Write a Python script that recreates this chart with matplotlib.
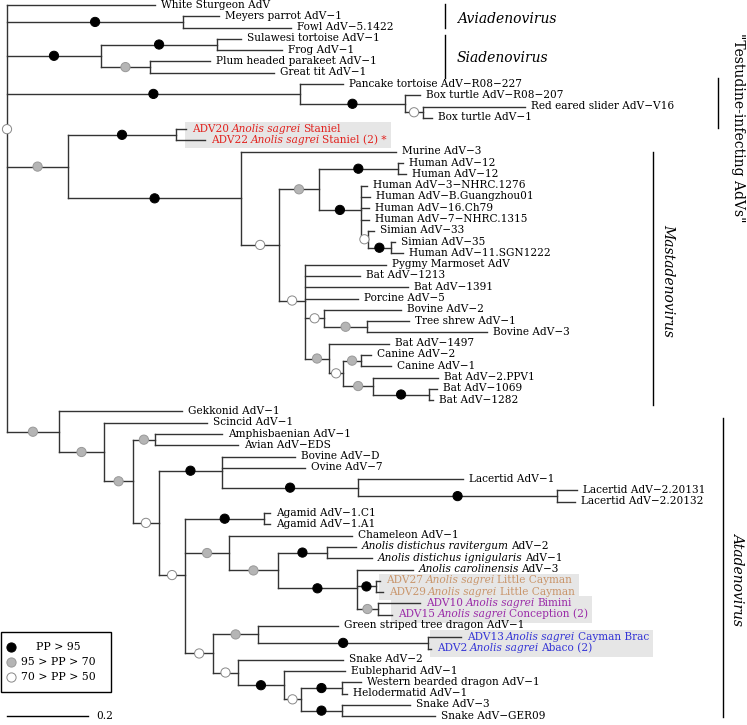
import matplotlib
matplotlib.use("Agg")
import matplotlib.pyplot as plt
from matplotlib.collections import LineCollection
from matplotlib.offsetbox import TextArea, HPacker, AnnotationBbox
from matplotlib.patches import Rectangle

# ---- tips, top to bottom (text between "_" is italic) ----
leaf_names = [
    "White Sturgeon AdV", "Meyers parrot AdV−1", "Fowl AdV−5.1422",
    "Sulawesi tortoise AdV−1", "Frog AdV−1", "Plum headed parakeet AdV−1",
    "Great tit AdV−1", "Pancake tortoise AdV−R08−227", "Box turtle AdV−R08−207",
    "Red eared slider AdV−V16", "Box turtle AdV−1",
    "ADV20 _Anolis sagrei_ Staniel", "ADV22 _Anolis sagrei_ Staniel (2) *",
    "Murine AdV−3", "Human AdV−12", "Human AdV−12", "Human AdV−3−NHRC.1276",
    "Human AdV−B.Guangzhou01", "Human AdV−16.Ch79", "Human AdV−7−NHRC.1315",
    "Simian AdV−33", "Simian AdV−35", "Human AdV−11.SGN1222",
    "Pygmy Marmoset AdV", "Bat AdV−1213", "Bat AdV−1391", "Porcine AdV−5",
    "Bovine AdV−2", "Tree shrew AdV−1", "Bovine AdV−3", "Bat AdV−1497",
    "Canine AdV−2", "Canine AdV−1", "Bat AdV−2.PPV1", "Bat AdV−1069",
    "Bat AdV−1282", "Gekkonid AdV−1", "Scincid AdV−1", "Amphisbaenian AdV−1",
    "Avian AdV−EDS", "Bovine AdV−D", "Ovine AdV−7", "Lacertid AdV−1",
    "Lacertid AdV−2.20131", "Lacertid AdV−2.20132", "Agamid AdV−1.C1",
    "Agamid AdV−1.A1", "Chameleon AdV−1",
    "_Anolis distichus ravitergum_ AdV−2",
    "_Anolis distichus ignigularis_ AdV−1",
    "_Anolis carolinensis_ AdV−3",
    "ADV27 _Anolis sagrei_ Little Cayman", "ADV29 _Anolis sagrei_ Little Cayman",
    "ADV10 _Anolis sagrei_ Bimini", "ADV15 _Anolis sagrei_ Conception (2)",
    "Green striped tree dragon AdV−1",
    "ADV13 _Anolis sagrei_ Cayman Brac", "ADV2 _Anolis sagrei_ Abaco (2)",
    "Snake AdV−2", "Eublepharid AdV−1", "Western bearded dragon AdV−1",
    "Helodermatid AdV−1", "Snake AdV−3", "Snake AdV−GER09",
]
leaf_parent = [
    "root", "avia", "avia", "sia1", "sia1", "sia2", "sia2", "testu", "testu1",
    "testu2", "testu2", "stan", "stan", "mast", "hadv12", "hadv12",
    "hadvb", "hadvb", "hadvb", "hadvb", "sim", "sim2", "sim2",
    "mast_b", "mast_b", "mast_b", "mast_b", "bov", "bov2", "bov2", "bat",
    "can", "can", "bat2", "bat3", "bat3", "ata", "ata1", "amph", "amph",
    "rum", "rum", "lac", "lac2", "lac2", "agam", "agam", "cham",
    "adist", "adist", "asag", "lc", "lc", "bim", "bim", "gstd", "cay", "cay",
    "snk", "snk1", "wbd", "wbd", "snk3", "snk3",
]
# distance from root (substitutions/site)
leaf_depth = [
    0.365, 0.523, 0.701, 0.578, 0.679, 0.501, 0.659, 0.830, 1.020, 1.279,
    1.049, 0.442, 0.489, 0.960, 0.978, 0.985, 0.889, 0.896, 0.894, 0.894,
    0.906, 0.958, 0.978, 0.936, 0.872, 0.990, 0.867, 0.973, 0.993, 1.185,
    0.943, 0.899, 0.948, 1.064, 1.062, 1.052, 0.432, 0.494, 0.531, 0.570,
    0.711, 0.736, 1.126, 1.407, 1.402, 0.649, 0.649, 0.852, 0.862, 0.901,
    1.002, 0.921, 0.928, 1.020, 0.951, 0.817, 1.121, 1.047, 0.830, 0.835,
    0.874, 0.840, 0.995, 1.057,
]
leaf_group = [""] * 11 + ["stan", "stan"] + [""] * 38 + ["lc", "lc", "bim", "bim",
                                                          "", "cay", "cay"] + [""] * 6

# ---- internal nodes ----
node_names = [
    "root", "avia", "sia", "sia1", "sia2", "testu", "testu1", "testu2",
    "mast_stan", "stan", "mast", "mast_a", "hadv", "hadv12", "hadvb", "sim",
    "sim2", "mast_b", "bov", "bov2", "bat", "bat1", "can", "bat2", "bat3",
    "ata", "ata1", "ata2", "amph", "ata3", "rum", "lac", "lac2", "ata4",
    "agam", "cham", "anol", "adist", "asag", "lc", "bim", "ata5", "gstd",
    "cay", "snk", "snk1", "snk2", "wbd", "snk3",
]
node_parent = [
    "", "root", "root", "sia", "sia", "root", "testu", "testu1",
    "root", "mast_stan", "mast_stan", "mast", "mast_a", "hadv", "hadv", "hadvb",
    "sim", "mast_a", "mast_b", "bov", "mast_b", "bat", "bat1", "bat1", "bat2",
    "root", "ata", "ata1", "ata2", "ata2", "ata3", "rum", "lac", "ata3",
    "ata4", "ata4", "cham", "anol", "anol", "asag", "asag", "ata4", "ata5",
    "gstd", "ata5", "snk", "snk1", "snk2", "snk2",
]
node_depth = [
    0.000, 0.435, 0.232, 0.519, 0.353, 0.723, 0.983, 1.027,
    0.151, 0.417, 0.578, 0.672, 0.770, 0.965, 0.874, 0.891,
    0.948, 0.736, 0.783, 0.889, 0.795, 0.830, 0.874, 0.904, 1.042,
    0.128, 0.240, 0.311, 0.365, 0.375, 0.531, 0.867, 1.358, 0.440,
    0.635, 0.548, 0.669, 0.790, 0.864, 0.911, 0.916, 0.509, 0.620,
    1.040, 0.570, 0.684, 0.726, 0.827, 0.827,
]
# b: PP > 95, g: 95 > PP > 70, w: 70 > PP > 50
node_support = [
    "w", "b", "b", "b", "g", "b", "b", "w",
    "g", "b", "b", "w", "g", "b", "b", "w",
    "b", "w", "w", "g", "g", "w", "g", "g", "b",
    "g", "g", "g", "g", "w", "b", "b", "b", "w",
    "b", "g", "g", "b", "b", "b", "g", "w", "g",
    "b", "w", "b", "w", "b", "b",
]

legend_labels = ["PP > 95", "95 > PP > 70", "70 > PP > 50"]
scale_len = 0.2

clade_names = ["Aviadenovirus", "Siadenovirus", '"Testudine-infecting AdVs"',
               "Mastadenovirus", "Atadenovirus"]

# ---- style ----
ROW = 11.29       # px between tips
PX_UNIT = 405     # px per substitution/site
FONT = "DejaVu Serif"
LEAF_SIZE = 7.6
LINE_COL = "#333333"
group_color = {"": "black", "stan": "#e2231f", "lc": "#c9966c",
               "bim": "#9a2ba8", "cay": "#3535d6"}
dot_face = {"b": "black", "g": "#b5b5b5", "w": "white"}
dot_edge = {"b": "black", "g": "#999999", "w": "#888888"}


def ux(px):
    return (px - 7) / PX_UNIT


def uy(py):
    return (py - 5) / ROW


fig = plt.figure(figsize=(7.47, 7.25), dpi=100)
ax = fig.add_axes([0, 0, 1, 1])
ax.set_xlim(ux(0), ux(747))
ax.set_ylim(uy(725), uy(0))
ax.axis("off")

# children and y of every node
kids = {n: [] for n in node_names}
for i, p in enumerate(leaf_parent):
    kids[p].append(("L", i))
for n, p in zip(node_names, node_parent):
    if p:
        kids[p].append(("N", n))
xnode = dict(zip(node_names, node_depth))
ynode = {}


def ypos(k):
    if k[0] == "L":
        return float(k[1])
    if k[1] not in ynode:
        ys = [ypos(c) for c in kids[k[1]]]
        ynode[k[1]] = sum(ys) / len(ys)
    return ynode[k[1]]


def xpos(k):
    return leaf_depth[k[1]] if k[0] == "L" else xnode[k[1]]


segs = []
for n in node_names:
    x = xnode[n]
    ys = [ypos(c) for c in kids[n]]
    segs.append([(x, min(ys)), (x, max(ys))])
    for c in kids[n]:
        segs.append([(x, ypos(c)), (xpos(c), ypos(c))])
ax.add_collection(LineCollection(segs, colors=LINE_COL, linewidths=1.0,
                                 capstyle="projecting", zorder=2))

# support dots, midway along the branch to each node
dx, dy, dc = [], [], []
for n, p, s in zip(node_names, node_parent, node_support):
    if not s:
        continue
    y = ypos(("N", n))
    x = xnode[n] if not p else (xnode[n] + xnode[p]) / 2
    dx.append(x)
    dy.append(y)
    dc.append(s)
ax.scatter(dx, dy, s=44, c=[dot_face[s] for s in dc],
           edgecolors=[dot_edge[s] for s in dc], linewidths=0.7, zorder=4)

# tip labels
labels = []
for i, name in enumerate(leaf_names):
    col = group_color[leaf_group[i]]
    parts = []
    for j, piece in enumerate(name.split("_")):
        piece = piece.strip()
        if not piece:
            continue
        props = dict(family=FONT, size=LEAF_SIZE, color=col,
                     style="italic" if j % 2 else "normal")
        parts.append(TextArea(piece, textprops=props))
    box = HPacker(children=parts, sep=1.7, pad=0, align="baseline")
    ab = AnnotationBbox(box, (leaf_depth[i], i), xybox=(4.3, 0),
                        xycoords="data", boxcoords="offset points",
                        box_alignment=(0, 0.45), frameon=False, pad=0,
                        zorder=5)
    ax.add_artist(ab)
    labels.append(ab)

# grey boxes behind the Anolis sagrei isolates
fig.canvas.draw()
rend = fig.canvas.get_renderer()
inv = ax.transData.inverted()
for g in ["stan", "lc", "bim", "cay"]:
    idx = [i for i, gg in enumerate(leaf_group) if gg == g]
    ext = [labels[i].get_window_extent(rend) for i in idx]
    x0 = min(e.x0 for e in ext) - 7
    x1 = max(e.x1 for e in ext) + 4
    (bx0, _), (bx1, _) = inv.transform([(x0, 0), (x1, 0)])
    top = idx[0] - 7 / ROW
    bot = idx[-1] + 8 / ROW
    ax.add_patch(Rectangle((bx0, top), bx1 - bx0, bot - top,
                           facecolor="#e6e6e6", edgecolor="none", zorder=0))

# clade bars and names
bars = [(ux(445), uy(4), uy(28)), (ux(445), uy(35), uy(78)),
        (ux(718), uy(78), uy(128)), (ux(653), uy(152), uy(405)),
        (ux(723), uy(418), uy(717))]
for (bx, b0, b1) in bars:
    ax.plot([bx, bx], [b0, b1], color="black", lw=1.0)
ax.text(ux(457), uy(19), clade_names[0], family=FONT, style="italic",
        size=10, va="center", ha="left")
ax.text(ux(457), uy(58), clade_names[1], family=FONT, style="italic",
        size=10, va="center", ha="left")
ax.text(ux(738), uy(128), clade_names[2], family=FONT, size=10,
        rotation=-90, va="center", ha="center")
ax.text(ux(668), uy(280), clade_names[3], family=FONT, style="italic",
        size=10, rotation=-90, va="center", ha="center")
ax.text(ux(738), uy(578), clade_names[4], family=FONT, style="italic",
        size=10, rotation=-90, va="center", ha="center")

# legend
W, H = 747, 725
ax.add_patch(Rectangle((1 / W, 1 - 692 / H), 110 / W, 60 / H,
                       transform=ax.transAxes, facecolor="white",
                       edgecolor="black", lw=1.0, zorder=3))
for k, (s, py) in enumerate(zip(["b", "g", "w"], [647, 662, 677])):
    ax.scatter([11 / W], [1 - py / H], s=44, c=dot_face[s],
               edgecolors=dot_edge[s], linewidths=0.7,
               transform=ax.transAxes, zorder=4)
    ax.text(58 / W, 1 - py / H, legend_labels[k], family=FONT, size=7.8,
            ha="center", va="center", transform=ax.transAxes, zorder=4)

# scale bar
ax.plot([0, scale_len], [uy(716), uy(716)], color="black", lw=1.0)
ax.annotate(str(scale_len), (scale_len, uy(716)), xytext=(6, 0),
            textcoords="offset points", family=FONT, size=7.6, va="center")

fig.savefig("out.png", dpi=100)
